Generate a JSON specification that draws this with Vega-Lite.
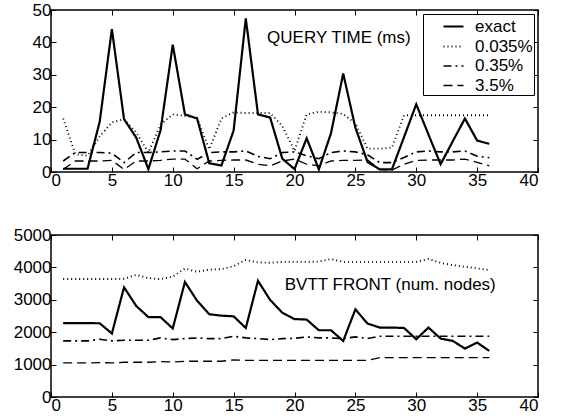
{
  "$schema": "https://vega.github.io/schema/vega-lite/v6.json",
  "padding": {"left": 12, "top": 0, "right": 5, "bottom": 5},
  "background": "white",
  "config": {
    "font": "Liberation Sans",
    "view": {"stroke": "black", "strokeWidth": 1.5},
    "axis": {"labelFontSize": 17, "labelColor": "black", "labelFont": "Liberation Sans", "tickColor": "black", "tickSize": -5, "tickWidth": 1, "domain": false, "grid": false, "labelPadding": 5, "title": null},
    "legend": {"orient": "top-right", "offset": 4, "title": null, "symbolType": "stroke", "symbolSize": 729, "symbolStrokeColor": "black", "symbolStrokeWidth": 2, "labelFontSize": 17, "labelFont": "Liberation Sans", "labelColor": "black", "strokeColor": "black", "fillColor": "white", "padding": 1, "rowPadding": 0.5, "symbolOffset": 18, "labelOffset": 10, "labelExpr": "datum.label + '   '"},
    "concat": {"spacing": 36}
  },
  "datasets": {
    "query": [
      {"s":"exact","x":1,"y":1},{"s":"exact","x":2,"y":1},{"s":"exact","x":3,"y":1},{"s":"exact","x":4,"y":15.5},{"s":"exact","x":5,"y":44.1},{"s":"exact","x":6,"y":16.3},{"s":"exact","x":7,"y":10.6},{"s":"exact","x":8,"y":0.9},{"s":"exact","x":9,"y":12.9},{"s":"exact","x":10,"y":39.3},{"s":"exact","x":11,"y":17.8},{"s":"exact","x":12,"y":16.5},{"s":"exact","x":13,"y":2.7},{"s":"exact","x":14,"y":2},{"s":"exact","x":15,"y":12.8},{"s":"exact","x":16,"y":47.4},{"s":"exact","x":17,"y":17.8},{"s":"exact","x":18,"y":16.8},{"s":"exact","x":19,"y":4.1},{"s":"exact","x":20,"y":0.9},{"s":"exact","x":21,"y":10.4},{"s":"exact","x":22,"y":0.8},{"s":"exact","x":23,"y":12},{"s":"exact","x":24,"y":30.4},{"s":"exact","x":25,"y":13.7},{"s":"exact","x":26,"y":3.1},{"s":"exact","x":27,"y":0.8},{"s":"exact","x":28,"y":0.8},{"s":"exact","x":29,"y":10.8},{"s":"exact","x":30,"y":20.9},{"s":"exact","x":31,"y":11.6},{"s":"exact","x":32,"y":2.4},{"s":"exact","x":33,"y":9.5},{"s":"exact","x":34,"y":16.5},{"s":"exact","x":35,"y":9.7},{"s":"exact","x":36,"y":8.7},
      {"s":"0.035%","x":1,"y":16.5},{"s":"0.035%","x":2,"y":5.5},{"s":"0.035%","x":3,"y":5},{"s":"0.035%","x":4,"y":11},{"s":"0.035%","x":5,"y":15.3},{"s":"0.035%","x":6,"y":16.3},{"s":"0.035%","x":7,"y":12.2},{"s":"0.035%","x":8,"y":6},{"s":"0.035%","x":9,"y":14.7},{"s":"0.035%","x":10,"y":17.8},{"s":"0.035%","x":11,"y":17.3},{"s":"0.035%","x":12,"y":16.7},{"s":"0.035%","x":13,"y":7},{"s":"0.035%","x":14,"y":16.5},{"s":"0.035%","x":15,"y":18.4},{"s":"0.035%","x":16,"y":18.2},{"s":"0.035%","x":17,"y":18.2},{"s":"0.035%","x":18,"y":18.2},{"s":"0.035%","x":19,"y":14.2},{"s":"0.035%","x":20,"y":6.5},{"s":"0.035%","x":21,"y":17.8},{"s":"0.035%","x":22,"y":18.6},{"s":"0.035%","x":23,"y":18.4},{"s":"0.035%","x":24,"y":17.9},{"s":"0.035%","x":25,"y":15},{"s":"0.035%","x":26,"y":7.2},{"s":"0.035%","x":27,"y":7.2},{"s":"0.035%","x":28,"y":7.5},{"s":"0.035%","x":29,"y":17.5},{"s":"0.035%","x":30,"y":17.5},{"s":"0.035%","x":31,"y":17.5},{"s":"0.035%","x":32,"y":17.5},{"s":"0.035%","x":33,"y":17.5},{"s":"0.035%","x":34,"y":17.5},{"s":"0.035%","x":35,"y":17.5},{"s":"0.035%","x":36,"y":17.5},
      {"s":"0.35%","x":1,"y":3.4},{"s":"0.35%","x":2,"y":6},{"s":"0.35%","x":3,"y":6},{"s":"0.35%","x":4,"y":6},{"s":"0.35%","x":5,"y":5.8},{"s":"0.35%","x":6,"y":2.9},{"s":"0.35%","x":7,"y":6},{"s":"0.35%","x":8,"y":6},{"s":"0.35%","x":9,"y":6.2},{"s":"0.35%","x":10,"y":6.5},{"s":"0.35%","x":11,"y":6.5},{"s":"0.35%","x":12,"y":3.9},{"s":"0.35%","x":13,"y":6},{"s":"0.35%","x":14,"y":6.2},{"s":"0.35%","x":15,"y":6.2},{"s":"0.35%","x":16,"y":6.5},{"s":"0.35%","x":17,"y":4.8},{"s":"0.35%","x":18,"y":4.1},{"s":"0.35%","x":19,"y":6},{"s":"0.35%","x":20,"y":6.2},{"s":"0.35%","x":21,"y":5},{"s":"0.35%","x":22,"y":4.1},{"s":"0.35%","x":23,"y":6},{"s":"0.35%","x":24,"y":6.5},{"s":"0.35%","x":25,"y":6.2},{"s":"0.35%","x":26,"y":5.3},{"s":"0.35%","x":27,"y":2.9},{"s":"0.35%","x":28,"y":2.9},{"s":"0.35%","x":29,"y":4.5},{"s":"0.35%","x":30,"y":6.2},{"s":"0.35%","x":31,"y":6.5},{"s":"0.35%","x":32,"y":6.2},{"s":"0.35%","x":33,"y":6.2},{"s":"0.35%","x":34,"y":6.5},{"s":"0.35%","x":35,"y":4.9},{"s":"0.35%","x":36,"y":4.4},
      {"s":"3.5%","x":1,"y":0.8},{"s":"3.5%","x":2,"y":3.4},{"s":"3.5%","x":3,"y":3.4},{"s":"3.5%","x":4,"y":3.4},{"s":"3.5%","x":5,"y":3.6},{"s":"3.5%","x":6,"y":0.8},{"s":"3.5%","x":7,"y":3.4},{"s":"3.5%","x":8,"y":3.4},{"s":"3.5%","x":9,"y":3.6},{"s":"3.5%","x":10,"y":4},{"s":"3.5%","x":11,"y":4},{"s":"3.5%","x":12,"y":1},{"s":"3.5%","x":13,"y":3.4},{"s":"3.5%","x":14,"y":3.6},{"s":"3.5%","x":15,"y":3.7},{"s":"3.5%","x":16,"y":3.7},{"s":"3.5%","x":17,"y":2.4},{"s":"3.5%","x":18,"y":1.9},{"s":"3.5%","x":19,"y":3.4},{"s":"3.5%","x":20,"y":4},{"s":"3.5%","x":21,"y":2.4},{"s":"3.5%","x":22,"y":1.9},{"s":"3.5%","x":23,"y":3.4},{"s":"3.5%","x":24,"y":3.6},{"s":"3.5%","x":25,"y":3.6},{"s":"3.5%","x":26,"y":3.7},{"s":"3.5%","x":27,"y":0.8},{"s":"3.5%","x":28,"y":0.6},{"s":"3.5%","x":29,"y":2.4},{"s":"3.5%","x":30,"y":3.6},{"s":"3.5%","x":31,"y":3.7},{"s":"3.5%","x":32,"y":3.7},{"s":"3.5%","x":33,"y":3.7},{"s":"3.5%","x":34,"y":4},{"s":"3.5%","x":35,"y":3},{"s":"3.5%","x":36,"y":1.9}
    ],
    "bvtt": [
      {"s":"exact","x":1,"y":2280},{"s":"exact","x":2,"y":2280},{"s":"exact","x":3,"y":2280},{"s":"exact","x":4,"y":2275},{"s":"exact","x":5,"y":1960},{"s":"exact","x":6,"y":3385},{"s":"exact","x":7,"y":2810},{"s":"exact","x":8,"y":2465},{"s":"exact","x":9,"y":2465},{"s":"exact","x":10,"y":2115},{"s":"exact","x":11,"y":3550},{"s":"exact","x":12,"y":2970},{"s":"exact","x":13,"y":2555},{"s":"exact","x":14,"y":2510},{"s":"exact","x":15,"y":2490},{"s":"exact","x":16,"y":2130},{"s":"exact","x":17,"y":3586},{"s":"exact","x":18,"y":2995},{"s":"exact","x":19,"y":2600},{"s":"exact","x":20,"y":2405},{"s":"exact","x":21,"y":2390},{"s":"exact","x":22,"y":2060},{"s":"exact","x":23,"y":2060},{"s":"exact","x":24,"y":1730},{"s":"exact","x":25,"y":2705},{"s":"exact","x":26,"y":2266},{"s":"exact","x":27,"y":2143},{"s":"exact","x":28,"y":2143},{"s":"exact","x":29,"y":2130},{"s":"exact","x":30,"y":1783},{"s":"exact","x":31,"y":2143},{"s":"exact","x":32,"y":1803},{"s":"exact","x":33,"y":1731},{"s":"exact","x":34,"y":1494},{"s":"exact","x":35,"y":1680},{"s":"exact","x":36,"y":1422},
      {"s":"0.035%","x":1,"y":3640},{"s":"0.035%","x":2,"y":3640},{"s":"0.035%","x":3,"y":3640},{"s":"0.035%","x":4,"y":3640},{"s":"0.035%","x":5,"y":3640},{"s":"0.035%","x":6,"y":3650},{"s":"0.035%","x":7,"y":3770},{"s":"0.035%","x":8,"y":3668},{"s":"0.035%","x":9,"y":3637},{"s":"0.035%","x":10,"y":3720},{"s":"0.035%","x":11,"y":3965},{"s":"0.035%","x":12,"y":3865},{"s":"0.035%","x":13,"y":3935},{"s":"0.035%","x":14,"y":3946},{"s":"0.035%","x":15,"y":4040},{"s":"0.035%","x":16,"y":4230},{"s":"0.035%","x":17,"y":4155},{"s":"0.035%","x":18,"y":4142},{"s":"0.035%","x":19,"y":4170},{"s":"0.035%","x":20,"y":4170},{"s":"0.035%","x":21,"y":4170},{"s":"0.035%","x":22,"y":4180},{"s":"0.035%","x":23,"y":4260},{"s":"0.035%","x":24,"y":4170},{"s":"0.035%","x":25,"y":4170},{"s":"0.035%","x":26,"y":4170},{"s":"0.035%","x":27,"y":4170},{"s":"0.035%","x":28,"y":4170},{"s":"0.035%","x":29,"y":4170},{"s":"0.035%","x":30,"y":4170},{"s":"0.035%","x":31,"y":4260},{"s":"0.035%","x":32,"y":4140},{"s":"0.035%","x":33,"y":4070},{"s":"0.035%","x":34,"y":4020},{"s":"0.035%","x":35,"y":3970},{"s":"0.035%","x":36,"y":3920},
      {"s":"0.35%","x":1,"y":1731},{"s":"0.35%","x":2,"y":1731},{"s":"0.35%","x":3,"y":1731},{"s":"0.35%","x":4,"y":1783},{"s":"0.35%","x":5,"y":1731},{"s":"0.35%","x":6,"y":1752},{"s":"0.35%","x":7,"y":1752},{"s":"0.35%","x":8,"y":1752},{"s":"0.35%","x":9,"y":1824},{"s":"0.35%","x":10,"y":1772},{"s":"0.35%","x":11,"y":1803},{"s":"0.35%","x":12,"y":1824},{"s":"0.35%","x":13,"y":1803},{"s":"0.35%","x":14,"y":1803},{"s":"0.35%","x":15,"y":1875},{"s":"0.35%","x":16,"y":1824},{"s":"0.35%","x":17,"y":1803},{"s":"0.35%","x":18,"y":1772},{"s":"0.35%","x":19,"y":1803},{"s":"0.35%","x":20,"y":1810},{"s":"0.35%","x":21,"y":1855},{"s":"0.35%","x":22,"y":1824},{"s":"0.35%","x":23,"y":1824},{"s":"0.35%","x":24,"y":1803},{"s":"0.35%","x":25,"y":1855},{"s":"0.35%","x":26,"y":1803},{"s":"0.35%","x":27,"y":1875},{"s":"0.35%","x":28,"y":1875},{"s":"0.35%","x":29,"y":1875},{"s":"0.35%","x":30,"y":1875},{"s":"0.35%","x":31,"y":1875},{"s":"0.35%","x":32,"y":1875},{"s":"0.35%","x":33,"y":1875},{"s":"0.35%","x":34,"y":1875},{"s":"0.35%","x":35,"y":1875},{"s":"0.35%","x":36,"y":1875},
      {"s":"3.5%","x":1,"y":1051},{"s":"3.5%","x":2,"y":1051},{"s":"3.5%","x":3,"y":1051},{"s":"3.5%","x":4,"y":1061},{"s":"3.5%","x":5,"y":1051},{"s":"3.5%","x":6,"y":1072},{"s":"3.5%","x":7,"y":1072},{"s":"3.5%","x":8,"y":1072},{"s":"3.5%","x":9,"y":1092},{"s":"3.5%","x":10,"y":1082},{"s":"3.5%","x":11,"y":1103},{"s":"3.5%","x":12,"y":1103},{"s":"3.5%","x":13,"y":1103},{"s":"3.5%","x":14,"y":1103},{"s":"3.5%","x":15,"y":1144},{"s":"3.5%","x":16,"y":1133},{"s":"3.5%","x":17,"y":1133},{"s":"3.5%","x":18,"y":1133},{"s":"3.5%","x":19,"y":1133},{"s":"3.5%","x":20,"y":1133},{"s":"3.5%","x":21,"y":1133},{"s":"3.5%","x":22,"y":1133},{"s":"3.5%","x":23,"y":1133},{"s":"3.5%","x":24,"y":1133},{"s":"3.5%","x":25,"y":1133},{"s":"3.5%","x":26,"y":1133},{"s":"3.5%","x":27,"y":1216},{"s":"3.5%","x":28,"y":1216},{"s":"3.5%","x":29,"y":1216},{"s":"3.5%","x":30,"y":1216},{"s":"3.5%","x":31,"y":1216},{"s":"3.5%","x":32,"y":1216},{"s":"3.5%","x":33,"y":1216},{"s":"3.5%","x":34,"y":1216},{"s":"3.5%","x":35,"y":1216},{"s":"3.5%","x":36,"y":1216}
    ]
  },
  "vconcat": [
    {
      "width": 487,
      "height": 162,
      "layer": [
        {
          "data": {"name": "query"},
          "mark": {"type": "line", "color": "black", "strokeCap": "butt"},
          "encoding": {
            "x": {"field": "x", "type": "quantitative", "scale": {"domain": [0, 40], "nice": false}, "axis": {"values": [0,5,10,15,20,25,30,35,40]}},
            "y": {"field": "y", "type": "quantitative", "scale": {"domain": [0, 50], "nice": false}, "axis": {"values": [0,10,20,30,40,50]}},
            "strokeDash": {"field": "s", "type": "nominal", "scale": {"domain": ["exact","0.035%","0.35%","3.5%"], "range": [[1,0],[1,3],[8,4,2,4],[9,5]]}, "legend": {"encode": {"symbols": {"update": {"size": {"value": 400}}}}}},
            "strokeWidth": {"field": "s", "type": "nominal", "scale": {"domain": ["exact","0.035%","0.35%","3.5%"], "range": [2.2,1.3,2,2.2]}, "legend": {"encode": {"symbols": {"update": {"size": {"value": 400}}}}}}
          }
        },
        {
          "data": {"values": [{"x": 17.75, "y": 39.8, "t": "QUERY TIME (ms)"}]},
          "mark": {"type": "text", "align": "left", "baseline": "alphabetic", "fontSize": 17, "color": "black", "font": "Liberation Sans"},
          "encoding": {
            "x": {"field": "x", "type": "quantitative", "axis": {"orient": "top", "labels": false, "values": [0,5,10,15,20,25,30,35,40]}},
            "y": {"field": "y", "type": "quantitative", "axis": {"orient": "right", "labels": false, "values": [0,10,20,30,40,50]}},
            "text": {"field": "t"}
          }
        }
      ],
      "resolve": {"axis": {"x": "independent", "y": "independent"}}
    },
    {
      "width": 487,
      "height": 162,
      "layer": [
        {
          "data": {"name": "bvtt"},
          "mark": {"type": "line", "color": "black", "strokeCap": "butt"},
          "encoding": {
            "x": {"field": "x", "type": "quantitative", "scale": {"domain": [0, 40], "nice": false}, "axis": {"values": [0,5,10,15,20,25,30,35,40]}},
            "y": {"field": "y", "type": "quantitative", "scale": {"domain": [0, 5000], "nice": false}, "axis": {"values": [0,1000,2000,3000,4000,5000], "format": "d"}},
            "strokeDash": {"field": "s", "type": "nominal", "scale": {"domain": ["exact","0.035%","0.35%","3.5%"], "range": [[1,0],[1,3],[8,4,2,4],[9,5]]}, "legend": null},
            "strokeWidth": {"field": "s", "type": "nominal", "scale": {"domain": ["exact","0.035%","0.35%","3.5%"], "range": [2.2,1.3,2,2.2]}, "legend": null}
          }
        },
        {
          "data": {"values": [{"x": 19.2, "y": 3300, "t": "BVTT FRONT (num. nodes)"}]},
          "mark": {"type": "text", "align": "left", "baseline": "alphabetic", "fontSize": 17, "color": "black", "font": "Liberation Sans"},
          "encoding": {
            "x": {"field": "x", "type": "quantitative", "axis": {"orient": "top", "labels": false, "values": [0,5,10,15,20,25,30,35,40]}},
            "y": {"field": "y", "type": "quantitative", "axis": {"orient": "right", "labels": false, "values": [0,1000,2000,3000,4000,5000]}},
            "text": {"field": "t"}
          }
        }
      ],
      "resolve": {"axis": {"x": "independent", "y": "independent"}}
    }
  ],
  "resolve": {"scale": {"strokeDash": "independent", "strokeWidth": "independent"}, "legend": {"strokeDash": "independent", "strokeWidth": "independent"}}
}
